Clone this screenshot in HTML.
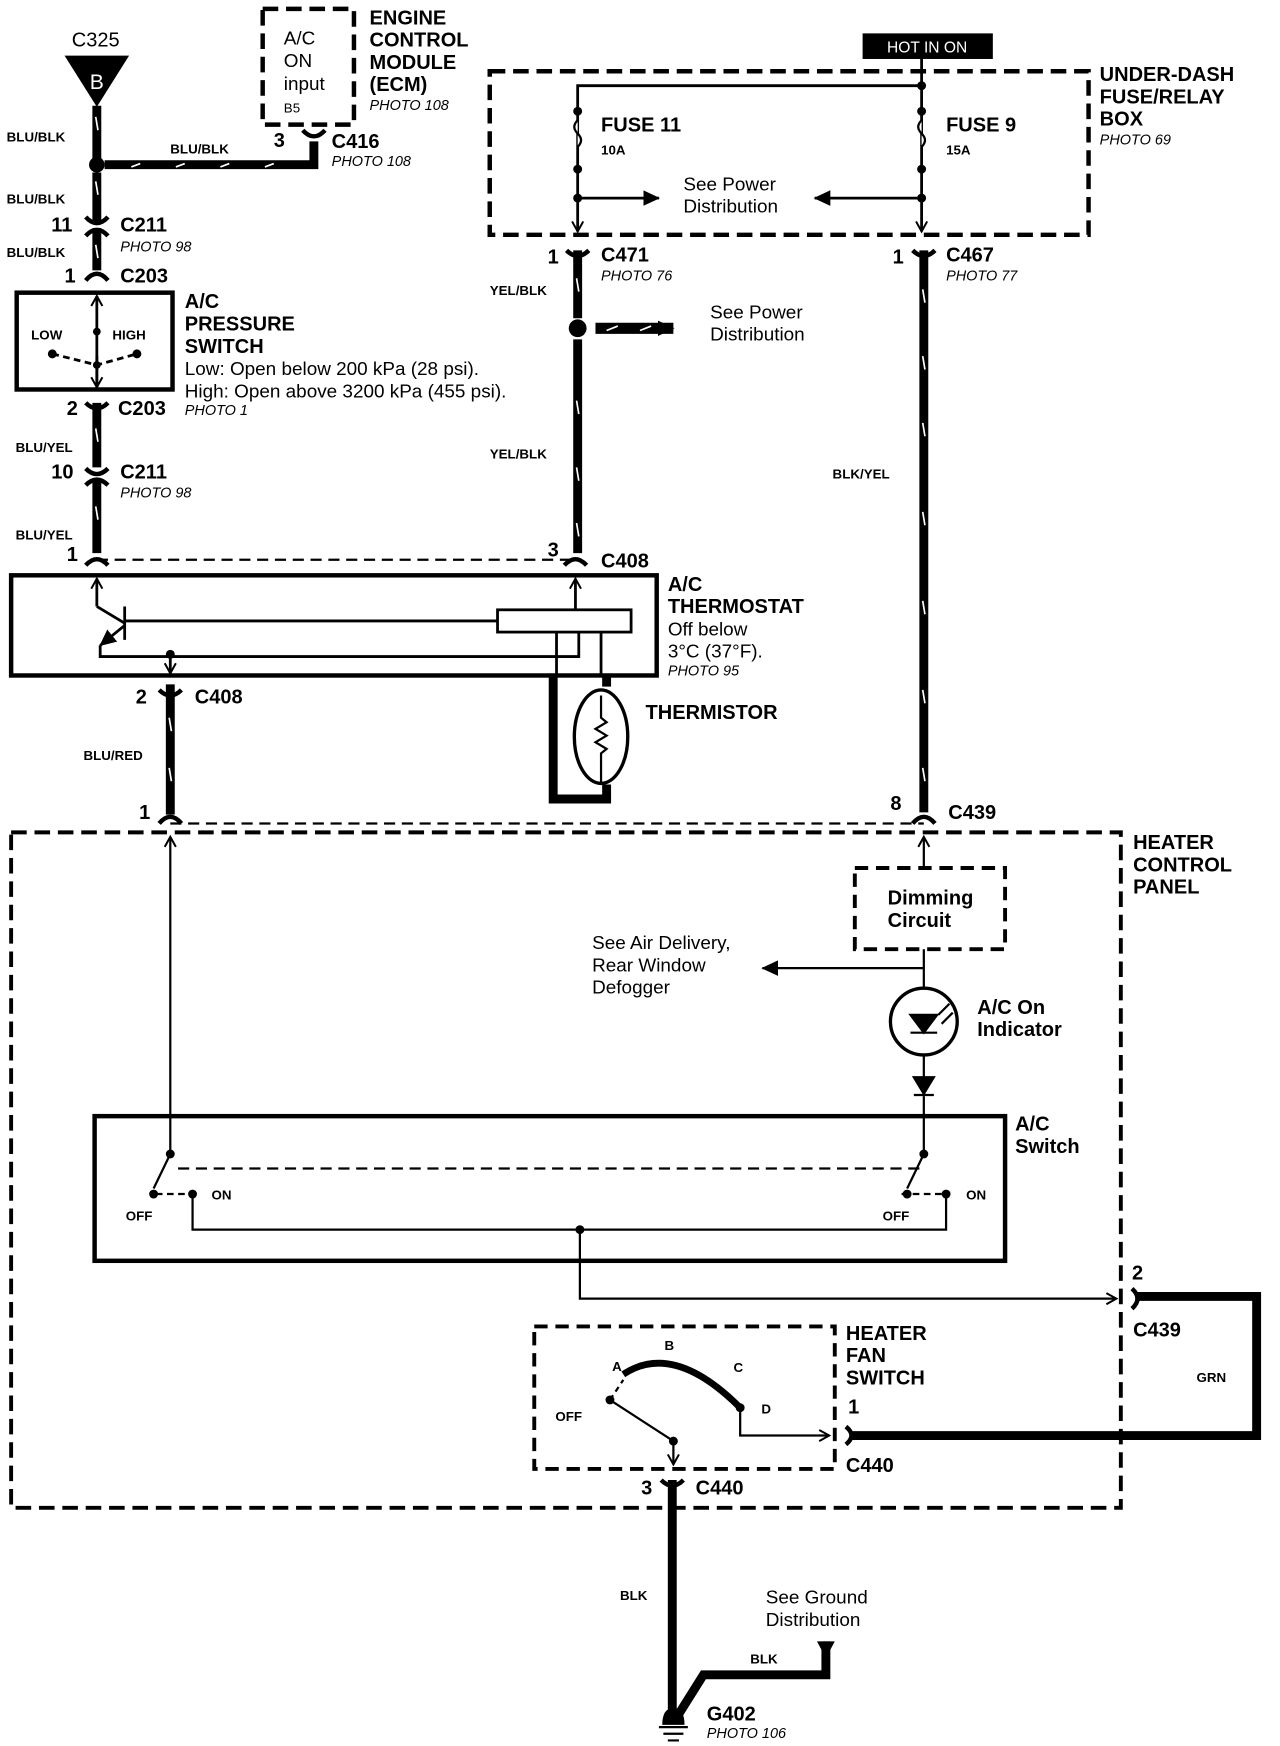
<!DOCTYPE html>
<html><head><meta charset="utf-8"><style>
html,body{margin:0;padding:0;background:#fff;}
svg{display:block}
text{font-family:"Liberation Sans",sans-serif;fill:#000}
.b{font-weight:bold}
.i{font-style:italic;font-size:13px}
.s{font-size:12px;font-weight:bold}
.L{font-size:18px;font-weight:bold}
.n{font-size:17px}
</style></head><body>
<svg width="1280" height="1746" viewBox="0 0 1150 1569" preserveAspectRatio="none" xmlns="http://www.w3.org/2000/svg">
<defs>
<marker id="ar" markerWidth="12" markerHeight="12" refX="10" refY="6" orient="auto" markerUnits="userSpaceOnUse"><path d="M1,1 L10,6 L1,11" fill="none" stroke="#000" stroke-width="1.8"/></marker>
<marker id="af" markerWidth="16" markerHeight="16" refX="14" refY="8" orient="auto" markerUnits="userSpaceOnUse"><path d="M0,1 L15,8 L0,15 Z" fill="#000"/></marker>
</defs>
<g fill="none" stroke="#000">
<rect x="236" y="8" width="82" height="104" stroke-width="4" stroke-dasharray="14,7"/>
<rect x="440" y="64" width="538" height="147" stroke-width="4" stroke-dasharray="14,7"/>
<rect x="10" y="748" width="997" height="607" stroke-width="3.5" stroke-dasharray="14,7"/>
<rect x="768" y="780" width="135" height="73" stroke-width="3.5" stroke-dasharray="12,7"/>
<rect x="480" y="1192" width="270" height="128" stroke-width="3.5" stroke-dasharray="12,7"/>
<rect x="15" y="263" width="140" height="87" stroke-width="4"/>
<rect x="10" y="517" width="580" height="90" stroke-width="4"/>
<rect x="85" y="1003" width="818" height="130" stroke-width="4"/>
<g stroke-width="8">
<path d="M87,95 V142"/><path d="M94,148 H282 V127"/>
<path d="M87,155 V200"/><path d="M87,205 V243"/>
<path d="M87,362 V420"/><path d="M87,430 V497"/>
<path d="M153,615 V732"/>
<path d="M519,225 V286"/><path d="M519,305 V497"/>
<path d="M830,225 V730"/>
<path d="M1020,1165 H1129 V1290 H765"/>
<path d="M604,1330 V1545"/>
<path d="M610,1540 L632,1505 H742 V1475"/>
<path d="M497,607 V718 H545 V705"/>
<path d="M545,607 V617"/>
</g>
<path d="M535,295 H605" stroke-width="10" marker-end="url(#af)"/>
<g stroke="#fff" stroke-width="1.5">
<path d="M86,105 L88,117"/><path d="M86,163 L88,175"/><path d="M86,220 L88,232"/><path d="M86,385 L88,397"/><path d="M86,455 L88,467"/>
<path d="M118,150 L126,147"/><path d="M158,150 L166,147"/><path d="M198,150 L206,147"/><path d="M238,150 L246,147"/>
<path d="M152,645 L154,657"/><path d="M152,690 L154,702"/>
<path d="M518,250 L520,262"/><path d="M518,360 L520,372"/><path d="M518,420 L520,432"/><path d="M518,470 L520,482"/>
<path d="M829,260 L831,272"/><path d="M829,320 L831,332"/><path d="M829,380 L831,392"/><path d="M829,460 L831,472"/><path d="M829,540 L831,552"/><path d="M829,620 L831,632"/><path d="M829,690 L831,702"/>
<path d="M545,297 L555,293"/><path d="M575,297 L585,293"/>
</g>
<g stroke-width="4">
<path d="M272,117 Q282,128 292,117"/>
<path d="M77,195 Q87,206 97,195"/><path d="M77,212 Q87,201 97,212"/>
<path d="M77,252 Q87,240 97,252"/>
<path d="M77,362 Q87,372 97,362"/>
<path d="M77,421 Q87,431 97,421"/><path d="M77,436 Q87,426 97,436"/>
<path d="M77,508 Q87,497 97,508"/><path d="M507,508 Q517,497 527,508"/>
<path d="M143,620 Q153,630 163,620"/><path d="M143,740 Q153,728 163,740"/>
<path d="M509,225 Q519,235 529,225"/><path d="M820,225 Q830,235 840,225"/>
<path d="M820,740 Q830,728 840,740"/>
<path d="M594,1330 Q604,1340 614,1330"/>
<path d="M1017,1158 Q1027,1167 1017,1176"/><path d="M760,1282 Q770,1290 760,1298"/>
</g>
<path d="M87,503 H517" stroke-width="2" stroke-dasharray="10,6"/>
<path d="M153,740 H830" stroke-width="2" stroke-dasharray="10,6"/>
<g stroke-width="2.5">
<path d="M828,53 V77 H519 V208" marker-end="url(#ar)"/>
<path d="M828,77 V208" marker-end="url(#ar)"/>
<path d="M519,178 H592" marker-end="url(#af)"/>
<path d="M828,178 H732" marker-end="url(#af)"/>
</g>
<path d="M519,108 q-6,6 0,12 q6,6 0,12" fill="#fff" stroke-width="2"/>
<path d="M828,108 q-6,6 0,12 q6,6 0,12" fill="#fff" stroke-width="2"/>
<g stroke-width="2.5">
<path d="M87,345 V266" marker-end="url(#ar)"/><path d="M87,320 V348" marker-end="url(#ar)"/>
<path d="M47,318 L87,328 L123,318" stroke-dasharray="6,4"/>
</g>
<g stroke-width="2.5">
<path d="M87,545 V520" marker-end="url(#ar)"/>
<path d="M87,545 L112,560"/><path d="M112,545 V575"/>
<path d="M112,562 L90,580" marker-end="url(#af)"/>
<path d="M90,580 V590 H153"/><path d="M153,588 V605" marker-end="url(#ar)"/>
<path d="M112,558 H447"/>
<rect x="447" y="548" width="120" height="20"/>
<path d="M517,548 V520" marker-end="url(#ar)"/>
<path d="M153,590 H520 V568"/>
<path d="M500,568 V607"/><path d="M540,568 V607"/>
</g>
<ellipse cx="540" cy="662" rx="24" ry="42" stroke-width="3"/>
<path d="M540,625 V645 l5,4 -10,6 10,6 -10,6 10,6 -5,4 V705" stroke-width="2"/>
<g stroke-width="2">
<path d="M153,1035 V752" marker-end="url(#ar)"/>
<path d="M830,780 V752" marker-end="url(#ar)"/>
<path d="M830,853 V888"/><path d="M830,870 H685" marker-end="url(#af)"/>
<path d="M830,948 V968"/><path d="M830,985 V1035"/>
<path d="M153,1037 L138,1068"/><path d="M830,1037 L815,1068"/>
<path d="M160,1050 H828" stroke-dasharray="10,6"/>
<path d="M140,1073 H170" stroke-dasharray="6,4"/><path d="M810,1073 H850" stroke-dasharray="6,4"/>
<path d="M173,1073 V1105 H850 V1073"/>
<path d="M521,1105 V1167 H1003" marker-end="url(#ar)"/>
<path d="M665,1265 V1290 H745" marker-end="url(#ar)"/>
<path d="M548,1258 L605,1295"/><path d="M605,1295 V1316" marker-end="url(#ar)"/>
<path d="M548,1258 L560,1240" stroke-dasharray="5,4"/>
</g>
<path d="M560,1235 Q605,1205 665,1265" stroke-width="6"/>
<circle cx="830" cy="918" r="30" stroke-width="3"/>
<path d="M818,912 H842 L830,928 Z M818,928 H842" fill="#000" stroke-width="2"/>
<path d="M843,912 L853,902 M846,920 L856,910" stroke-width="2"/>
<path d="M821,968 H839 L830,983 Z M821,984 H839" fill="#000" stroke-width="2"/>
<path d="M592,1552 H618 M596,1558 H614 M600,1564 H610" stroke-width="2"/>
</g>
<g fill="#000">
<path d="M58,50 H116 L87,96 Z"/>
<path d="M734,1475 H750 L742,1490 Z"/>
<circle cx="87" cy="148" r="7"/><circle cx="519" cy="295" r="8"/>
<circle cx="519" cy="100" r="4"/><circle cx="519" cy="152" r="4"/><circle cx="519" cy="178" r="4"/>
<circle cx="828" cy="77" r="4"/><circle cx="828" cy="100" r="4"/><circle cx="828" cy="152" r="4"/><circle cx="828" cy="178" r="4"/>
<circle cx="87" cy="298" r="3.5"/><circle cx="87" cy="328" r="3.5"/><circle cx="47" cy="318" r="4"/><circle cx="123" cy="318" r="4"/>
<circle cx="153" cy="588" r="4"/>
<circle cx="153" cy="1037" r="4"/><circle cx="830" cy="1037" r="4"/><circle cx="521" cy="1105" r="4"/>
<circle cx="138" cy="1073" r="4"/><circle cx="173" cy="1073" r="4"/><circle cx="815" cy="1073" r="4"/><circle cx="850" cy="1073" r="4"/>
<circle cx="548" cy="1258" r="4"/><circle cx="605" cy="1295" r="4"/><circle cx="665" cy="1265" r="4"/>
<path d="M595,1550 Q595,1535 605,1535 Q615,1535 615,1550 Z"/>
<rect x="775" y="30" width="117" height="23"/>
</g>
<text x="86" y="42" font-size="18" text-anchor="middle">C325</text>
<text x="87" y="80" font-size="19" text-anchor="middle" style="fill:#fff">B</text>
<text x="833" y="47" font-size="14" text-anchor="middle" style="fill:#fff">HOT IN ON</text>
<g class="s">
<text x="6" y="127">BLU/BLK</text><text x="153" y="138">BLU/BLK</text><text x="6" y="183">BLU/BLK</text><text x="6" y="231">BLU/BLK</text>
<text x="14" y="406">BLU/YEL</text><text x="14" y="485">BLU/YEL</text><text x="75" y="683">BLU/RED</text>
<text x="440" y="265">YEL/BLK</text><text x="440" y="412">YEL/BLK</text><text x="748" y="430">BLK/YEL</text>
<text x="1075" y="1242">GRN</text><text x="557" y="1438">BLK</text><text x="674" y="1495">BLK</text>
<text x="28" y="305">LOW</text><text x="101" y="305">HIGH</text>
<text x="540" y="139">10A</text><text x="850" y="139">15A</text>
<text x="113" y="1097">OFF</text><text x="190" y="1078">ON</text><text x="793" y="1097">OFF</text><text x="868" y="1078">ON</text>
<text x="550" y="1232">A</text><text x="597" y="1213">B</text><text x="659" y="1233">C</text><text x="684" y="1270">D</text><text x="499" y="1277">OFF</text>
</g>
<g class="L">
<text x="246" y="132">3</text><text x="298" y="133">C416</text>
<text x="46" y="208">11</text><text x="108" y="208">C211</text>
<text x="58" y="254">1</text><text x="108" y="254">C203</text>
<text x="60" y="373">2</text><text x="106" y="373">C203</text>
<text x="46" y="430">10</text><text x="108" y="430">C211</text>
<text x="60" y="504">1</text><text x="492" y="500">3</text><text x="540" y="510">C408</text>
<text x="122" y="632">2</text><text x="175" y="632">C408</text><text x="125" y="736">1</text>
<text x="492" y="237">1</text><text x="540" y="235">C471</text><text x="802" y="237">1</text><text x="850" y="235">C467</text>
<text x="800" y="728">8</text><text x="852" y="736">C439</text>
<text x="1017" y="1150">2</text><text x="1018" y="1201">C439</text>
<text x="762" y="1270">1</text><text x="760" y="1323">C440</text>
<text x="576" y="1343">3</text><text x="625" y="1343">C440</text><text x="635" y="1546">G402</text>
<text x="332" y="22">ENGINE</text><text x="332" y="42">CONTROL</text><text x="332" y="62">MODULE</text><text x="332" y="82">(ECM)</text>
<text x="988" y="73">UNDER-DASH</text><text x="988" y="93">FUSE/RELAY</text><text x="988" y="113">BOX</text>
<text x="540" y="118">FUSE 11</text><text x="850" y="118">FUSE 9</text>
<text x="166" y="277">A/C</text><text x="166" y="297">PRESSURE</text><text x="166" y="317">SWITCH</text>
<text x="600" y="531">A/C</text><text x="600" y="551">THERMOSTAT</text>
<text x="580" y="646">THERMISTOR</text>
<text x="1018" y="763">HEATER</text><text x="1018" y="783">CONTROL</text><text x="1018" y="803">PANEL</text>
<text x="836" y="813" text-anchor="middle">Dimming</text><text x="826" y="833" text-anchor="middle">Circuit</text>
<text x="878" y="911">A/C On</text><text x="878" y="931">Indicator</text>
<text x="912" y="1016">A/C</text><text x="912" y="1036">Switch</text>
<text x="760" y="1204">HEATER</text><text x="760" y="1224">FAN</text><text x="760" y="1244">SWITCH</text>
</g>
<g class="n">
<text x="255" y="40">A/C</text><text x="255" y="60">ON</text><text x="255" y="81">input</text>
<text x="255" y="101" font-size="12">B5</text>
<text x="166" y="337">Low: Open below 200 kPa (28 psi).</text>
<text x="166" y="357">High: Open above 3200 kPa (455 psi).</text>
<text x="600" y="571">Off below</text><text x="600" y="591">3°C (37°F).</text>
<text x="614" y="171">See Power</text><text x="614" y="191">Distribution</text>
<text x="638" y="286">See Power</text><text x="638" y="306">Distribution</text>
<text x="532" y="853">See Air Delivery,</text><text x="532" y="873">Rear Window</text><text x="532" y="893">Defogger</text>
<text x="688" y="1441">See Ground</text><text x="688" y="1461">Distribution</text>
</g>
<g class="i">
<text x="332" y="99">PHOTO 108</text><text x="298" y="149">PHOTO 108</text><text x="108" y="226">PHOTO 98</text>
<text x="166" y="373">PHOTO 1</text><text x="108" y="447">PHOTO 98</text><text x="600" y="607">PHOTO 95</text>
<text x="540" y="252">PHOTO 76</text><text x="850" y="252">PHOTO 77</text><text x="988" y="130">PHOTO 69</text>
<text x="635" y="1562">PHOTO 106</text>
</g>
</svg>
</body></html>
